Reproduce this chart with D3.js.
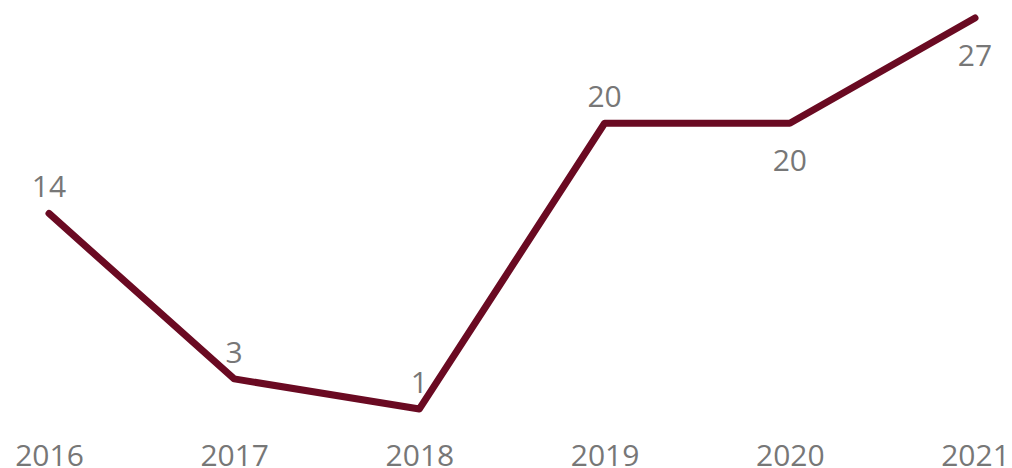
<!DOCTYPE html>
<html>
<head>
<meta charset="utf-8">
<script src="https://cdn.jsdelivr.net/npm/d3@7"></script>
<style>
  html, body { margin: 0; padding: 0; background: #fff; }
  svg { display: block; }
  text { font-family: "Open Sans", "Noto Sans", sans-serif; fill: #777; }
</style>
</head>
<body>
<svg id="chart" width="1012" height="468"></svg>
<script>
const years = ["2016", "2017", "2018", "2019", "2020", "2021"];
const values = [14, 3, 1, 20, 20, 27];
const labelBelow = [false, false, false, false, true, true];

const svg = d3.select("#chart");
const x = d3.scalePoint().domain(years).range([49, 975]);
const y = d3.scaleLinear().domain([0, 27]).range([424, 18]);

const data = years.map((yr, i) => ({ yr, v: values[i], below: labelBelow[i] }));

svg.append("path")
  .datum(data)
  .attr("fill", "none")
  .attr("stroke", "#6a0a22")
  .attr("stroke-width", 7)
  .attr("stroke-linecap", "round")
  .attr("stroke-linejoin", "round")
  .attr("d", d3.line().x(d => x(d.yr)).y(d => y(d.v)));

svg.append("g").selectAll("text")
  .data(data)
  .join("text")
  .attr("x", d => x(d.yr))
  .attr("y", d => d.below ? y(d.v) + 48 : y(d.v) - 16)
  .attr("text-anchor", "middle")
  .attr("font-size", 30)
  .text(d => d.v);

const xAxis = svg.append("g")
  .attr("transform", "translate(0,466)")
  .call(d3.axisBottom(x).tickSize(0).tickPadding(0));
xAxis.select(".domain").remove();
xAxis.selectAll("text")
  .attr("dy", 0)
  .attr("y", 0)
  .attr("font-size", 30)
  .style("font-family", "'Open Sans', 'Noto Sans', sans-serif")
  .attr("fill", "#777");
</script>
</body>
</html>
